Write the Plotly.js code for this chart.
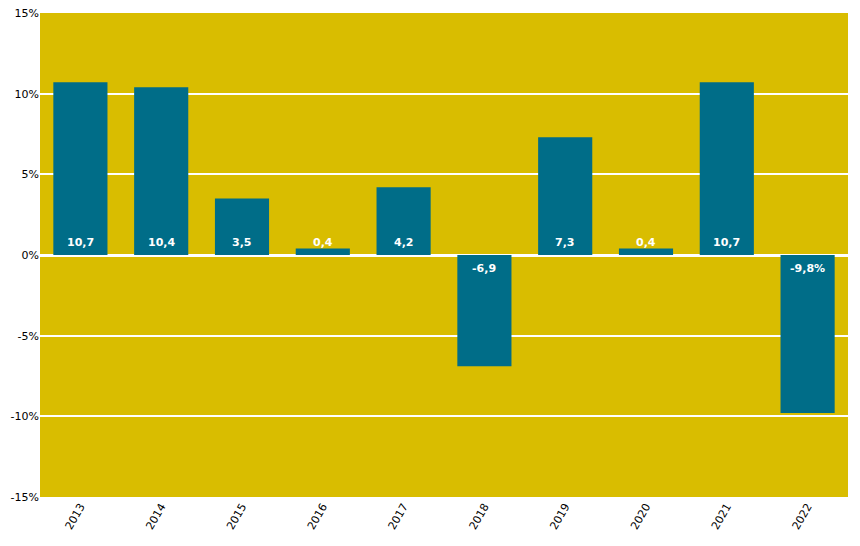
<!DOCTYPE html>
<html>
<head>
<meta charset="utf-8">
<script src="https://cdn.plot.ly/plotly-3.0.1.min.js"></script>
<style>html,body{margin:0;padding:0;background:#fff;}#chart{width:860px;height:546px;}</style>
</head>
<body>
<div id="chart"></div>
<script>
var years = ['2013','2014','2015','2016','2017','2018','2019','2020','2021','2022'];
var values = [10.7, 10.4, 3.5, 0.4, 4.2, -6.9, 7.3, 0.4, 10.7, -9.8];
var labels = ['10,7','10,4','3,5','0,4','4,2','-6,9','7,3','0,4','10,7','-9,8%'];
var yTickVals = [-15, -10, -5, 0, 5, 10, 15];
var yTickText = ['-15%','-10%','-5%','0%','5%','10%','15%'];

var annotations = years.map(function(y, i){
  return {
    x: i, y: 0, xref: 'x', yref: 'y',
    text: labels[i], showarrow: false,
    yshift: values[i] >= 0 ? 13 : -13,
    font: {family: 'DejaVu Sans, Verdana, sans-serif', size: 11, color: '#ffffff', weight: 'bold'}
  };
});

var trace = {
  type: 'bar', x: years, y: values,
  marker: {color: '#006D88'},
  hoverinfo: 'none'
};

var layout = {
  width: 860, height: 546,
  margin: {l: 40, r: 12, t: 13, b: 49},
  paper_bgcolor: '#ffffff',
  plot_bgcolor: '#D9BD00',
  bargap: 0.33,
  showlegend: false,
  font: {family: 'DejaVu Sans, Verdana, sans-serif', size: 11, color: '#000'},
  xaxis: {
    type: 'category', range: [-0.5, years.length - 0.5], autorange: false,
    tickangle: -60, showgrid: false, zeroline: false,
    showline: false, ticks: '', tickfont: {size: 11, color: '#000'}
  },
  yaxis: {
    range: [-15, 15], autorange: false, tickvals: yTickVals, ticktext: yTickText,
    showgrid: true, gridcolor: '#ffffff', gridwidth: 2,
    zeroline: true, zerolinecolor: '#ffffff', zerolinewidth: 3,
    showline: false, ticks: '', tickfont: {size: 11, color: '#000'}
  },
  annotations: annotations
};

Plotly.newPlot('chart', [trace], layout, {displayModeBar: false, staticPlot: true});
</script>
</body>
</html>
